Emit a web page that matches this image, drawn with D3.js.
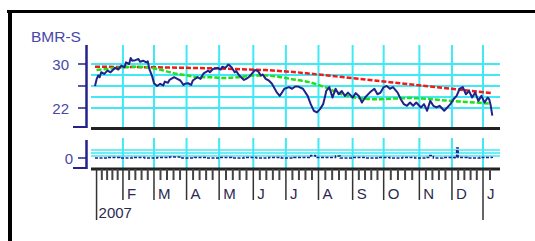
<!DOCTYPE html>
<html>
<head>
<meta charset="utf-8">
<script src="https://cdn.jsdelivr.net/npm/d3@7"></script>
<style>
  body { margin: 0; background: #fff; }
  svg { display: block; font-family: Arial, "Liberation Sans", sans-serif; }
</style>
</head>
<body>
<svg id="chart" width="535" height="241"></svg>
<script>
const ticker = 'BMR-S'
const yearLabel = '2007'
const monthLabels = ['', 'F', 'M', 'A', 'M', 'J', 'J', 'A', 'S', 'O', 'N', 'D', 'J']
const monthDays = [1, 18, 38, 59, 80, 102, 123, 144, 166, 186, 209, 230, 250]
const priceTicks = [30, 26, 22]
const priceTickLabels = ['30', '', '22']
const priceGrid = [30, 28, 26, 24, 22]
const volGrid = [0.8, 0.5, 0.2]

// daily close (trading day index from 3 Jan 2007)
const priceDays = [0, 1, 2, 3, 4, 6, 8, 10, 13, 15, 17, 19, 20, 22, 23, 24, 26, 28, 29, 31, 33, 34, 35, 37, 38, 40,
  42, 44, 45, 47, 48, 51, 53, 55, 57, 58, 60, 62, 63, 66, 68, 70, 73, 74, 76, 79, 81, 82, 84, 86, 88, 90, 91, 93, 96, 98, 99,
  101, 103, 105, 107, 108, 110, 112, 114, 117, 119, 120, 122, 125, 127, 129, 131, 134, 137, 139, 141, 143, 145, 147, 148, 149,
  151, 153, 155, 157, 159, 161, 163, 166, 168, 170, 172, 174, 177, 180, 182, 184, 186, 188, 190, 192, 195, 197, 199, 201, 203,
  205, 207, 210, 212, 214, 216, 218, 220, 222, 225, 227, 229, 231, 233, 235, 237, 239, 241, 243, 245,
  247, 249, 251, 253, 254, 255, 256]
const price = [26.0, 27.2, 27.9, 27.6, 28.5, 28.2, 28.8, 28.5, 29.3, 29.0, 29.7, 29.4, 30.3, 30.0, 31.1, 30.6, 30.7, 30.9, 30.4, 30.6, 30.3, 30.5, 29.1, 27.6, 26.5, 26.0,
  26.4, 26.1, 26.8, 26.6, 27.1, 27.6, 27.3, 27.0, 26.2, 26.4, 26.5, 26.2, 27.0, 27.6, 27.3, 28.3, 28.8, 28.5, 29.1, 29.3, 29.0, 29.5, 29.3, 29.9, 29.4, 28.5, 28.7, 27.9, 27.1, 27.4, 27.6,
  28.2, 28.9, 28.7, 27.9, 28.1, 27.3, 27.0, 26.4, 24.9, 24.2, 24.6, 25.5, 25.8, 25.5, 25.9, 25.9, 25.5, 24.2, 22.7, 21.5, 21.2, 21.8, 22.7, 23.8, 25.1,
  25.8, 23.9, 25.5, 24.5, 25.1, 24.2, 24.8, 23.9, 24.7, 24.2, 23.0, 23.9, 24.8, 25.5, 24.5, 24.8, 25.8, 26.0, 25.5, 25.8, 24.8, 23.6, 22.7, 22.4, 23.0,
  22.4, 23.0, 22.1, 22.7, 21.5, 23.3, 22.4, 22.1, 22.4, 21.5, 22.1, 22.7, 23.6, 24.2, 25.5, 25.8, 24.5, 25.1, 23.9, 24.8,
  23.3, 24.2, 23.0, 23.9, 23.6, 22.4, 20.6]

// 200 day average
const ma200Days = [0, 40, 80, 110, 130, 150, 170, 190, 210, 230, 256]
const ma200 = [29.5, 29.4, 29.2, 28.9, 28.5, 27.9, 27.3, 26.7, 26.1, 25.5, 24.7]

// 50 day average
const ma50Days = [1, 8, 17, 28, 34, 43, 51, 60, 66, 75, 81, 92, 103, 111, 120, 128, 138, 148, 159, 170, 181, 191, 202, 213, 224, 234, 245, 254]
const ma50 = [28.9, 29.1, 29.4, 29.5, 29.4, 28.9, 28.3, 27.9, 27.6, 27.6, 27.45, 27.6, 27.9, 27.9, 27.6, 27.2, 26.7, 25.8, 24.5, 23.8, 23.6, 23.7, 23.8, 23.7, 23.4, 23.2, 23.0, 22.8]

// lower panel
const volDays = [0, 8, 16, 24, 32, 40, 48, 56, 64, 72, 80, 88, 96, 104, 112, 120, 128, 136, 139, 142, 150, 155, 158, 166, 174, 182,
  190, 198, 206, 213, 215, 218, 224, 232, 233, 234, 240, 248, 256]
const vol = [0, 0.05, 0, 0.05, 0, 0.05, 0.1, 0, 0.05, 0, 0.05, 0, 0.05, 0, 0.05, 0, 0.05, 0.05, 0.25, 0.05, 0.05, 0.2, 0, 0.05, 0, 0.05,
  0, 0.05, 0, 0.05, 0.25, 0, 0.05, 0, 1.0, 0.05, 0, 0.05, 0]

const svg = d3.select('#chart')

const navy = '#22228a'
const labelColor = '#4848a8'
const cyan = '#3fe9f5'
const left = 91, right = 500

const x = d3.scaleLinear().domain([0, 250]).range([95, 483])
const y = d3.scaleLinear().domain([22, 30]).range([108, 64])
const yv = d3.scaleLinear().domain([-1, 1.8]).range([168, 140])

// outer frame (top and left edge visible)
svg.append('line').attr('x1', 7).attr('x2', 535).attr('y1', 11.5).attr('y2', 11.5)
  .attr('stroke', '#000').attr('stroke-width', 3)
svg.append('line').attr('x1', 10).attr('x2', 10).attr('y1', 10).attr('y2', 241)
  .attr('stroke', '#000').attr('stroke-width', 4)

// grid
const grid = svg.append('g').attr('stroke', cyan).attr('stroke-width', 2)

grid.selectAll('.hgrid')
  .data(priceGrid)
  .enter().append('line')
  .attr('x1', left).attr('x2', right)
  .attr('y1', d => y(d)).attr('y2', d => y(d))

grid.selectAll('.vgrid')
  .data(monthDays.slice(1))
  .enter().append('line')
  .attr('x1', d => x(d)).attr('x2', d => x(d))
  .attr('y1', 45).attr('y2', 127)

grid.selectAll('.vhgrid')
  .data(volGrid)
  .enter().append('line')
  .attr('x1', left).attr('x2', right)
  .attr('y1', d => yv(d)).attr('y2', d => yv(d))
  .attr('stroke-width', 1.5)

grid.selectAll('.vvgrid')
  .data(monthDays.slice(1))
  .enter().append('line')
  .attr('x1', d => x(d)).attr('x2', d => x(d))
  .attr('y1', 138).attr('y2', 168)

// moving averages
svg.append('path')
  .datum(d3.zip(ma200Days, ma200))
  .attr('d', d3.line().x(d => x(d[0])).y(d => y(d[1])))
  .attr('fill', 'none')
  .attr('stroke', '#f01a1a')
  .attr('stroke-width', 2.5)
  .attr('stroke-dasharray', '5,2')

svg.append('path')
  .datum(d3.zip(ma50Days, ma50))
  .attr('d', d3.line().x(d => x(d[0])).y(d => y(d[1])).curve(d3.curveMonotoneX))
  .attr('fill', 'none')
  .attr('stroke', '#22e01a')
  .attr('stroke-width', 2.5)
  .attr('stroke-dasharray', '5,2')

// price
svg.append('path')
  .datum(d3.zip(priceDays, price))
  .attr('d', d3.line().x(d => x(d[0])).y(d => y(d[1])))
  .attr('fill', 'none')
  .attr('stroke', navy)
  .attr('stroke-width', 2)
  .attr('stroke-linejoin', 'round')

// lower panel line
svg.append('path')
  .datum(d3.zip(volDays, vol))
  .attr('d', d3.line().x(d => x(d[0])).y(d => yv(d[1])).curve(d3.curveStepAfter))
  .attr('fill', 'none')
  .attr('stroke', navy)
  .attr('stroke-width', 1.5)
  .attr('stroke-dasharray', '3,1.5')

// separators
svg.append('line').attr('x1', left).attr('x2', right).attr('y1', 128.5).attr('y2', 128.5)
  .attr('stroke', '#222').attr('stroke-width', 3)
svg.append('line').attr('x1', left).attr('x2', right).attr('y1', 169).attr('y2', 169)
  .attr('stroke', '#222').attr('stroke-width', 3)

// y axes
const yAxis = svg.append('g').attr('stroke', navy)
yAxis.append('line').attr('x1', 86.5).attr('x2', 86.5).attr('y1', 45).attr('y2', 128)
  .attr('stroke-width', 2.5)
yAxis.append('line').attr('x1', 73).attr('x2', 87).attr('y1', 127).attr('y2', 127)
  .attr('stroke-width', 2)
yAxis.selectAll('.tick')
  .data(priceTicks)
  .enter().append('line')
  .attr('x1', 78).attr('x2', 86)
  .attr('y1', d => y(d)).attr('y2', d => y(d))
  .attr('stroke-width', 1.5)

yAxis.append('line').attr('x1', 86.5).attr('x2', 86.5).attr('y1', 140).attr('y2', 169)
  .attr('stroke-width', 2.5)
yAxis.append('line').attr('x1', 73).attr('x2', 87).attr('y1', 168).attr('y2', 168)
  .attr('stroke-width', 2)
yAxis.append('line').attr('x1', 78).attr('x2', 86).attr('y1', yv(0)).attr('y2', yv(0))
  .attr('stroke-width', 1.5)

svg.selectAll('.ylabel')
  .data(priceTicks)
  .enter().append('text')
  .attr('x', 69).attr('y', d => y(d) + 5.5)
  .attr('text-anchor', 'end')
  .attr('font-size', 15)
  .attr('fill', labelColor)
  .text((d, i) => priceTickLabels[i])

svg.append('text')
  .attr('x', 73).attr('y', yv(0) + 5.5)
  .attr('text-anchor', 'end')
  .attr('font-size', 15)
  .attr('fill', labelColor)
  .text('0')

svg.append('text')
  .attr('x', 31).attr('y', 42)
  .attr('font-size', 15.5)
  .attr('fill', labelColor)
  .text(ticker)

// x axis ticks
const minorDays = []
d3.pairs(monthDays).forEach(([a, b]) => {
  for (let k = 1; k < 5; k++) minorDays.push(a + (b - a) * k / 5)
})
minorDays.push(monthDays[monthDays.length - 1] + 4.5)

svg.append('g').selectAll('line')
  .data(minorDays)
  .enter().append('line')
  .attr('x1', d => x(d)).attr('x2', d => x(d))
  .attr('y1', 169).attr('y2', 180)
  .attr('stroke', '#444').attr('stroke-width', 2)

svg.append('g').selectAll('line')
  .data(monthDays)
  .enter().append('line')
  .attr('x1', d => x(d)).attr('x2', d => x(d))
  .attr('y1', 169)
  .attr('y2', (d, i) => (i === 0 || i === monthDays.length - 1) ? 220 : 200)
  .attr('stroke', '#333').attr('stroke-width', 1.5)

svg.append('g').selectAll('text')
  .data(monthDays)
  .enter().append('text')
  .attr('x', d => x(d) + 4)
  .attr('y', 199)
  .attr('font-size', 15)
  .attr('fill', '#2a2a50')
  .text((d, i) => monthLabels[i])

svg.append('text')
  .attr('x', x(monthDays[0]) + 2).attr('y', 218)
  .attr('font-size', 15)
  .attr('fill', '#2a2a50')
  .text(yearLabel)
</script>
</body>
</html>
